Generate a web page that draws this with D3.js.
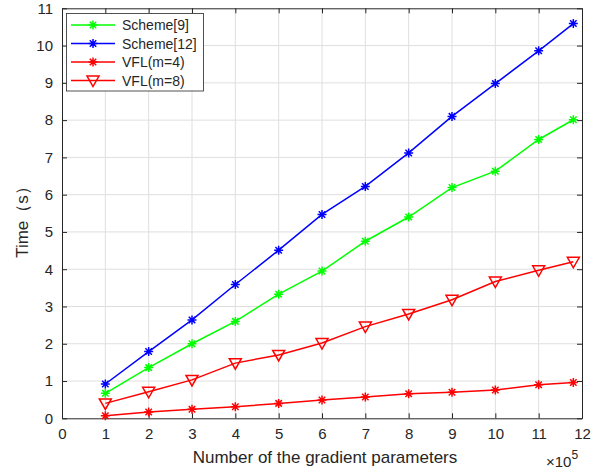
<!DOCTYPE html>
<meta charset="utf-8">
<style>
body { margin: 0; background: #fff; }
text { font-family: "Liberation Sans", Arial, sans-serif; fill: #262626; }
.grid line { stroke: #dfdfdf; stroke-width: 1; }
</style>
<svg width="607" height="472"></svg>
<script src="https://d3js.org/d3.v7.min.js"></script>
<script>
// x positions (x10^5 gradient parameters)
var xVals = [1, 2, 3, 4, 5, 6, 7, 8, 9, 10, 11, 11.8];
var scheme9  = [0.67, 1.36, 2.00, 2.60, 3.33, 3.95, 4.75, 5.40, 6.19, 6.63, 7.48, 8.01];
var scheme12 = [0.92, 1.79, 2.64, 3.59, 4.51, 5.47, 6.22, 7.12, 8.10, 8.98, 9.86, 10.59];
var vflM4    = [0.07, 0.17, 0.24, 0.31, 0.40, 0.49, 0.57, 0.66, 0.70, 0.76, 0.90, 0.96];
var vflM8    = [0.40, 0.71, 1.03, 1.48, 1.70, 2.02, 2.46, 2.80, 3.18, 3.67, 3.97, 4.20];
var xTicks = d3.range(0, 13);
var yTicks = d3.range(0, 12);

var series = [
  {name: "Scheme[9]",  color: "#00ff00", marker: "star", vals: scheme9},
  {name: "Scheme[12]", color: "#0000ff", marker: "star", vals: scheme12},
  {name: "VFL(m=4)",   color: "#ff0000", marker: "star", vals: vflM4},
  {name: "VFL(m=8)",   color: "#ff0000", marker: "tri",  vals: vflM8}
];

var svg = d3.select("svg");
var L = 62, R = 582, T = 8.3, B = 418.3;
var x = d3.scaleLinear().domain([0, 12]).range([L, R]);
var y = d3.scaleLinear().domain([0, 11]).range([B, T]);

// grid
var grid = svg.append("g").attr("class", "grid");
grid.selectAll(".gx").data(xTicks.slice(1, -1)).enter().append("line")
  .attr("x1", d => x(d)).attr("x2", d => x(d)).attr("y1", T).attr("y2", B);
grid.selectAll(".gy").data(yTicks.slice(1, -1)).enter().append("line")
  .attr("y1", d => y(d)).attr("y2", d => y(d)).attr("x1", L).attr("x2", R);

// axes (ticks inward, box on)
var ax = svg.append("g");
ax.append("g").attr("transform", "translate(0," + B + ")")
  .call(d3.axisBottom(x).tickValues(xTicks).tickSizeInner(-5).tickSizeOuter(0).tickPadding(10));
ax.append("g").attr("transform", "translate(" + L + ",0)")
  .call(d3.axisLeft(y).tickValues(yTicks).tickSizeInner(-5).tickSizeOuter(0).tickPadding(9));
ax.append("g").attr("transform", "translate(0," + T + ")")
  .call(d3.axisTop(x).tickValues(xTicks).tickSizeInner(-5).tickSizeOuter(0).tickFormat(""));
ax.append("g").attr("transform", "translate(" + R + ",0)")
  .call(d3.axisRight(y).tickValues(yTicks).tickSizeInner(-5).tickSizeOuter(0).tickFormat(""));
ax.selectAll("path.domain").attr("stroke", "#262626");
ax.selectAll(".tick line").attr("stroke", "#262626");
ax.selectAll(".tick text").attr("fill", "#262626").style("font-size", "15px")
  .style("font-family", "'Liberation Sans', Arial, sans-serif");

// labels
svg.append("text").attr("x", 325).attr("y", 463).attr("text-anchor", "middle")
  .style("font-size", "17px").text("Number of the gradient parameters");
svg.append("text").attr("transform", "translate(28,218) rotate(-90)").attr("text-anchor", "middle")
  .style("font-size", "17px").text("Time（s）");
var mul = svg.append("text").attr("x", 546).attr("y", 467).style("font-size", "15px");
mul.append("tspan").text("×10");
mul.append("tspan").attr("dy", -8).style("font-size", "12px").text("5");

function drawMarker(g, kind, color) {
  if (kind === "star") {
    var r = 4.5, d = r * 0.72;
    g.append("path")
      .attr("d", "M0," + (-r) + "V" + r + "M" + (-r) + ",0H" + r +
        "M" + (-d) + "," + (-d) + "L" + d + "," + d + "M" + (-d) + "," + d + "L" + d + "," + (-d))
      .attr("stroke", color).attr("stroke-width", 1.5).attr("fill", "none");
  } else {
    g.append("path").attr("d", "M-6,-4.5L6,-4.5L0,6Z")
      .attr("stroke", color).attr("stroke-width", 1.5).attr("fill", "none");
  }
}

var line = d3.line().x((d, i) => x(xVals[i])).y(d => y(d));
series.forEach(function(s) {
  svg.append("path").datum(s.vals).attr("d", line)
    .attr("fill", "none").attr("stroke", s.color).attr("stroke-width", 1.5);
  s.vals.forEach(function(v, i) {
    drawMarker(svg.append("g").attr("transform", "translate(" + x(xVals[i]) + "," + y(v) + ")"), s.marker, s.color);
  });
});

// legend
var lg = svg.append("g");
lg.append("rect").attr("x", 66.5).attr("y", 13.5).attr("width", 137).attr("height", 77.5)
  .attr("fill", "#fff").attr("stroke", "#262626").attr("stroke-width", 0.8);
var rowY = [25, 43.5, 62, 80.5];
series.forEach(function(s, i) {
  lg.append("line").attr("x1", 71).attr("x2", 115).attr("y1", rowY[i]).attr("y2", rowY[i])
    .attr("stroke", s.color).attr("stroke-width", 1.5);
  drawMarker(lg.append("g").attr("transform", "translate(93," + rowY[i] + ")"), s.marker, s.color);
  lg.append("text").attr("x", 122).attr("y", rowY[i] + 5).style("font-size", "14px").text(s.name);
});
</script>
